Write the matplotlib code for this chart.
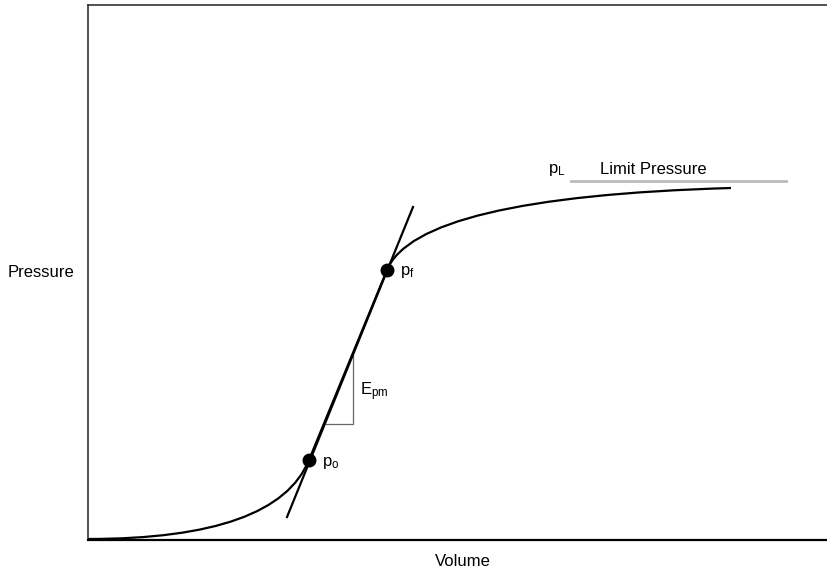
import numpy as np
import matplotlib.pyplot as plt
from matplotlib.path import Path
from matplotlib.patches import PathPatch

plt.rcParams['font.family'] = ['Liberation Sans', 'DejaVu Sans']
plt.rcParams['mathtext.fontset'] = 'custom'
plt.rcParams['mathtext.rm'] = 'Liberation Sans'
plt.rcParams['mathtext.it'] = 'Liberation Sans'

# pressuremeter curve (arbitrary units)
# start, bend, p_o, p_f, bend, end  -> drawn as two smooth arcs joined by the linear part
curve_x = [0, 189, 221, 299, 329, 643]
curve_y = [1, 1, 80, 270, 343, 352]

# tangent (E_pm) line ends
tan_x = [199, 325]
tan_y = [23, 333]

# p_o and p_f points
pts_x = [221, 299]
pts_y = [80, 270]

# slope triangle
tri_x = [238, 265, 265]
tri_y = [116, 116, 186]

# limit pressure line
lim_x = [483, 698]
lim_y = [359, 359]

fig = plt.figure(figsize=(8.27, 5.70), dpi=100)
ax = fig.add_axes([88 / 827, 30 / 570, 750 / 827, 535 / 570])

codes = [Path.MOVETO, Path.CURVE3, Path.CURVE3, Path.LINETO, Path.CURVE3, Path.CURVE3]
curve = Path(list(zip(curve_x, curve_y)), codes)
ax.add_patch(PathPatch(curve, facecolor='none', edgecolor='black', lw=1.6, zorder=3))

ax.plot(tan_x, tan_y, color='black', lw=1.6, zorder=3)
ax.plot(tri_x, tri_y, color='#666666', lw=0.9, zorder=2)
ax.plot(lim_x, lim_y, color='#bbbbbb', lw=2, zorder=2)
ax.plot(pts_x, pts_y, 'o', color='black', ms=9, zorder=4)

fs = 12
ax.text(pts_x[0] + 13, pts_y[0] - 3, r'$\mathrm{p_o}$', fontsize=fs, va='center')
ax.text(pts_x[1] + 13, pts_y[1] - 2, r'$\mathrm{p_f}$', fontsize=fs, va='center')
ax.text(272, 148, r'$\mathrm{E_{pm}}$', fontsize=fs, va='center')
ax.text(460, 370, r'$\mathrm{p_L}$', fontsize=fs, va='center')
ax.text(512, 370, 'Limit Pressure', fontsize=fs, va='center')

ax.set_xlim(0, 750)
ax.set_ylim(0, 535)
ax.set_xticks([])
ax.set_yticks([])
ax.spines['right'].set_visible(False)
for s in ['left', 'top', 'bottom']:
    ax.spines[s].set_color('#333333')
    ax.spines[s].set_linewidth(1.2)
ax.spines['bottom'].set_color('black')
ax.spines['bottom'].set_linewidth(1.6)

ax.set_xlabel('Volume', fontsize=fs, labelpad=10)
ax.set_ylabel('Pressure', fontsize=fs, rotation=0, va='center', ha='center')
ax.yaxis.set_label_coords((41 - 88) / 750, 0.5)

fig.savefig('out.png', dpi=100)
